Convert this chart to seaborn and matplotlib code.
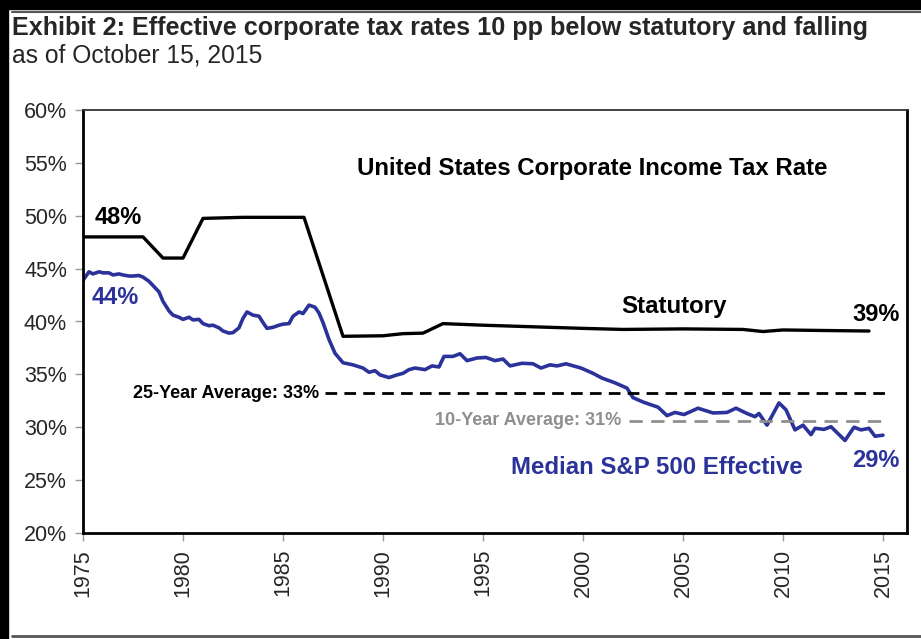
import matplotlib
matplotlib.use("Agg")
import matplotlib.pyplot as plt
import seaborn as sns
import pandas as pd
from matplotlib import font_manager
from matplotlib.lines import Line2D
from matplotlib.patches import Rectangle

# ---- data -------------------------------------------------------------
stat_years = [1975, 1978, 1979, 1980, 1981, 1983, 1986.05, 1988, 1990, 1991,
              1992, 1993, 1995, 2000, 2002, 2005, 2008, 2009, 2010, 2012, 2014.3]
stat_rate = [48.0, 48.0, 46.0, 46.0, 49.75, 49.85, 49.85, 38.6, 38.65, 38.85,
             38.9, 39.8, 39.65, 39.35, 39.25, 39.3, 39.25, 39.05, 39.2, 39.15, 39.1]

eff_years = [1975.0, 1975.3, 1975.5, 1975.8, 1976.0, 1976.3, 1976.5, 1976.8, 1977.0, 1977.3,
             1977.5, 1977.8, 1978.0, 1978.3, 1978.5, 1978.8, 1979.0, 1979.3, 1979.5, 1979.8,
             1980.0, 1980.3, 1980.5, 1980.8, 1981.0, 1981.3, 1981.5, 1981.8, 1982.0, 1982.3,
             1982.5, 1982.8, 1983.0, 1983.2, 1983.5, 1983.8, 1984.0, 1984.2, 1984.5, 1984.8,
             1985.0, 1985.3, 1985.5, 1985.8, 1986.0, 1986.3, 1986.6, 1986.8, 1987.0, 1987.3,
             1987.6, 1988.0, 1988.5, 1989.0, 1989.3, 1989.6, 1989.85, 1990.3, 1990.7, 1991.0,
             1991.3, 1991.6, 1992.1, 1992.45, 1992.8, 1993.05, 1993.5, 1993.85, 1994.2, 1994.7,
             1995.15, 1995.6, 1996.0, 1996.35, 1996.95, 1997.5, 1997.9, 1998.35, 1998.7, 1999.15,
             1999.9, 2000.5, 2000.95, 2001.6, 2002.2, 2002.5, 2003.05, 2003.75, 2004.2, 2004.6,
             2005.05, 2005.75, 2006.5, 2007.2, 2007.65, 2008.2, 2008.6, 2008.8, 2009.2, 2009.8,
             2010.15, 2010.6, 2011.0, 2011.4, 2011.6, 2012.05, 2012.4, 2013.1, 2013.55, 2013.9,
             2014.3, 2014.6, 2015.0]
eff_rate = [43.9, 44.7, 44.5, 44.7, 44.6, 44.6, 44.4, 44.5, 44.4, 44.3,
            44.3, 44.35, 44.2, 43.8, 43.4, 42.8, 41.9, 41.0, 40.6, 40.4,
            40.2, 40.4, 40.15, 40.2, 39.8, 39.6, 39.65, 39.4, 39.1, 38.9,
            38.95, 39.4, 40.3, 40.9, 40.6, 40.5, 39.9, 39.35, 39.45, 39.65,
            39.75, 39.8, 40.5, 40.9, 40.75, 41.55, 41.35, 40.8, 39.9, 38.3,
            37.0, 36.1, 35.9, 35.6, 35.2, 35.35, 34.95, 34.7, 34.95, 35.1,
            35.45, 35.6, 35.45, 35.8, 35.7, 36.7, 36.7, 36.95, 36.3, 36.55,
            36.6, 36.3, 36.45, 35.8, 36.05, 36.0, 35.6, 35.9, 35.8, 36.0,
            35.6, 35.1, 34.65, 34.2, 33.7, 32.8, 32.35, 31.9, 31.1, 31.4,
            31.2, 31.8, 31.35, 31.4, 31.8, 31.3, 31.0, 31.3, 30.2, 32.3,
            31.65, 29.75, 30.2, 29.3, 29.9, 29.8, 30.05, 28.75, 30.0, 29.75,
            29.9, 29.15, 29.25]

avg25 = 33.2
avg10 = 30.6

x_ticks = [1975, 1980, 1985, 1990, 1995, 2000, 2005, 2010, 2015]
y_ticks = [20, 25, 30, 35, 40, 45, 50, 55, 60]

title = "Exhibit 2: Effective corporate tax rates 10 pp below statutory and falling"
subtitle = "as of October 15, 2015"

# ---- style ------------------------------------------------------------
sns.set_style("ticks")
plt.rcParams["font.family"] = ["Liberation Sans", "DejaVu Sans"]
installed = {f.name for f in font_manager.fontManager.ttflist}
narrow = "Liberation Sans Narrow" if "Liberation Sans Narrow" in installed else "Liberation Sans"

BLUE = "#2B339B"
GREY = "#8F8F8F"
W, H = 921, 639

fig = plt.figure(figsize=(W / 100, H / 100), dpi=100)
fig.patch.set_facecolor("white")

# frame bands and rules around the exhibit
fig.patches.append(Rectangle((0, 1 - 9 / H), 1, 9 / H, transform=fig.transFigure,
                             color="black", zorder=0))
fig.patches.append(Rectangle((0, 0), 8 / W, 1, transform=fig.transFigure,
                             color="black", zorder=0))
fig.lines.append(Line2D([12 / W, 1], [1 - 11.5 / H] * 2, transform=fig.transFigure,
                        color="#555555", lw=1.5))
fig.lines.append(Line2D([12 / W, 1], [1 - 636 / H] * 2, transform=fig.transFigure,
                        color="#555555", lw=2))

fig.text(12 / W, 1 - 28 / H, title, fontsize=18.1, fontweight="bold",
         family=[narrow, "DejaVu Sans"], va="center", ha="left")
fig.text(12 / W, 1 - 56 / H, subtitle, fontsize=17.7,
         family=[narrow, "DejaVu Sans"], va="center", ha="left")

ax = fig.add_axes([83 / W, 1 - 533 / H, (907 - 83) / W, (533 - 110) / H])

stat_df = pd.DataFrame({"year": stat_years, "rate": stat_rate})
eff_df = pd.DataFrame({"year": eff_years, "rate": eff_rate})

sns.lineplot(data=stat_df, x="year", y="rate", color="black", lw=2.4, ax=ax)
sns.lineplot(data=eff_df, x="year", y="rate", color=BLUE, lw=2.6, ax=ax)

# long-run averages
ax.hlines(avg25, 1987.1, 2015.1, colors="black", lw=2.0, linestyles=(0, (4.2, 2.6)))
ax.hlines(avg10, 2002.3, 2015.1, colors=GREY, lw=2.0, linestyles=(0, (4.8, 3.0)))
ax.text(1986.8, avg25, f"25-Year Average: {avg25:.0f}%", ha="right", va="center",
        fontsize=13, fontweight="bold", color="black")
ax.text(2001.9, avg10, f"10-Year Average: {avg10:.0f}%", ha="right", va="center",
        fontsize=13, fontweight="bold", color=GREY)

# annotations
ax.text(1975.6, 49.8, f"{stat_rate[0]:.0f}%", fontsize=17, fontweight="bold",
        color="black", ha="left", va="center")
ax.text(1975.45, 42.3, f"{eff_rate[0]:.0f}%", fontsize=17, fontweight="bold",
        color=BLUE, ha="left", va="center")
ax.text(2015.85, 40.7, f"{stat_rate[-1]:.0f}%", fontsize=17, fontweight="bold",
        color="black", ha="right", va="center")
ax.text(2015.85, 26.9, f"{eff_rate[-1]:.0f}%", fontsize=17, fontweight="bold",
        color=BLUE, ha="right", va="center")
ax.text(2000.45, 54.5, "United States Corporate Income Tax Rate", fontsize=17.3,
        fontweight="bold", color="black", ha="center", va="center")
ax.text(2004.55, 41.4, "Statutory", fontsize=17.3, fontweight="bold",
        color="black", ha="center", va="center")
ax.text(2003.7, 26.2, "Median S&P 500 Effective", fontsize=17.3, fontweight="bold",
        color=BLUE, ha="center", va="center")

# axes
ax.set_xlim(1975, 2016.2)
ax.set_ylim(20, 60)
ax.set_xticks(x_ticks)
ax.set_xticklabels([str(t) for t in x_ticks], rotation=90)
ax.set_yticks(y_ticks)
ax.set_yticklabels([f"{t}%" for t in y_ticks])
ax.set_xlabel("")
ax.set_ylabel("")
ax.tick_params(axis="both", labelsize=15.5, length=5.5, width=1, color="#9A9A9A",
               direction="out", pad=6)
for side in ["left", "bottom", "right"]:
    ax.spines[side].set_visible(True)
    ax.spines[side].set_color("black")
    ax.spines[side].set_linewidth(2)
ax.spines["top"].set_visible(True)
ax.spines["top"].set_color("#333333")
ax.spines["top"].set_linewidth(1.3)

fig.savefig("out.png", dpi=100, facecolor="white")
